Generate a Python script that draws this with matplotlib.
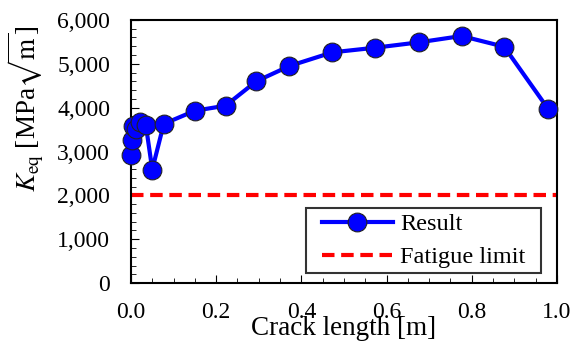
import matplotlib.pyplot as plt
from matplotlib.path import Path
from matplotlib.ticker import MultipleLocator, FuncFormatter

plt.rcParams['font.family'] = ['Liberation Serif', 'DejaVu Serif']
plt.rcParams['mathtext.fontset'] = 'stix'

# Crack length [m] and equivalent stress intensity factor
crack_length = [0.0, 0.002, 0.005, 0.012, 0.022, 0.035, 0.05, 0.077,
                0.15, 0.222, 0.294, 0.372, 0.473, 0.574, 0.676, 0.776, 0.876, 0.98]
k_eq = [2920, 3260, 3590, 3510, 3665, 3600, 2590, 3630,
        3930, 4045, 4600, 4950, 5262, 5368, 5490, 5634, 5390, 3962]
fatigue_limit = 2000

fig = plt.figure(figsize=(5.82, 3.44), dpi=100)
ax = fig.add_axes([0.225, 0.177, 0.732, 0.765])

ax.plot(crack_length, k_eq, color='#0000ff', lw=3, marker='o', ms=13.5,
        markerfacecolor='#0000ff', markeredgecolor='#222222', markeredgewidth=0.8,
        label='Result', clip_on=False, zorder=3)
ax.axhline(fatigue_limit, color='#ff0000', lw=3, ls=(0, (3, 1.6)), label='Fatigue limit')

ax.set_xlim(0, 1)
ax.set_ylim(0, 6000)
ax.xaxis.set_major_locator(MultipleLocator(0.2))
ax.xaxis.set_minor_locator(MultipleLocator(0.05))
ax.yaxis.set_major_locator(MultipleLocator(1000))
ax.yaxis.set_minor_locator(MultipleLocator(200))
ax.xaxis.set_major_formatter(FuncFormatter(lambda v, p: f'{v:.1f}'))
ax.yaxis.set_major_formatter(FuncFormatter(lambda v, p: f'{int(v):,}'))
ax.tick_params(which='both', direction='in', labelsize=17)
ax.tick_params(which='major', length=6)
ax.tick_params(which='minor', length=3.5)
ax.tick_params(axis='x', which='major', pad=13.5)
ax.tick_params(axis='y', which='major', pad=15)
for s in ax.spines.values():
    s.set_linewidth(1.5)

ax.set_xlabel('Crack length [m]', fontsize=19.5, labelpad=-5)
ax.set_ylabel(r'$K_{\mathrm{eq}}$ [MPa$\sqrt{\mathrm{m}}$]', fontsize=19.5)
ax.yaxis.set_label_coords(-0.2, 0.662)


# legend frame wider than tall padding, like the original
def wide_box(x0, y0, width, height, mutation_size, extra=11):
    x0 -= extra
    width += 2 * extra
    return Path([(x0, y0), (x0 + width, y0), (x0 + width, y0 + height),
                 (x0, y0 + height), (x0, y0)], closed=True)


leg = ax.legend(loc='lower right', bbox_to_anchor=(0.937, 0.038), fontsize=17.5,
                frameon=True, fancybox=False, edgecolor='black', handlelength=2.9,
                handletextpad=0.3, labelspacing=0.45, borderpad=0.2, borderaxespad=0)
leg.get_frame().set_linewidth(1.5)
leg.get_frame().set_boxstyle(wide_box)

fig.savefig('out.png', dpi=100)
